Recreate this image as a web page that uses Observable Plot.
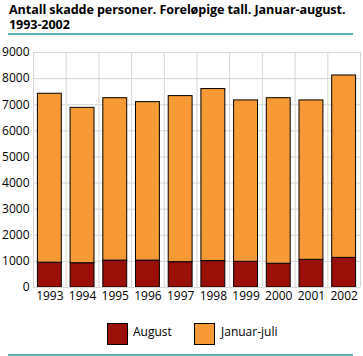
<!DOCTYPE html>
<html>
<head>
<meta charset="utf-8">
<script src="https://cdn.jsdelivr.net/npm/d3@7"></script>
<script src="https://cdn.jsdelivr.net/npm/@observablehq/plot@0.6"></script>
<style>
  html, body { margin: 0; padding: 0; background: #fff; }
  body { width: 363px; height: 356px; position: relative; overflow: hidden; font-family: "Open Sans", sans-serif; color: #000; }
  .title { position: absolute; left: 9px; font-weight: bold; font-size: 12.6px; line-height: 14px; letter-spacing: -0.1px; white-space: nowrap; }
  .rule { position: absolute; left: 8px; width: 345px; height: 2px; background: #5fb3b3; }
  #chart { position: absolute; left: 0; top: 38px; }
  .sw { position: absolute; width: 19px; height: 20px; border: 1px solid #000; }
  .lab { position: absolute; font-size: 12px; line-height: 14px; }
</style>
</head>
<body>
<div class="title" style="top:3px">Antall skadde personer. Foreløpige tall. Januar-august.</div>
<div class="title" style="top:18px">1993-2002</div>
<div class="rule" style="top:33px"></div>
<div id="chart"></div>
<div class="sw" style="left:107px; top:323px; background:#9a0f08"></div>
<div class="lab" style="left:133px; top:325px">August</div>
<div class="sw" style="left:194px; top:323px; background:#f79a36"></div>
<div class="lab" style="left:221px; top:325px">Januar-juli</div>
<div class="rule" style="top:354px"></div>
<script>
const years = [1993, 1994, 1995, 1996, 1997, 1998, 1999, 2000, 2001, 2002];
const august = [950, 930, 1030, 1030, 970, 1010, 985, 910, 1060, 1135];
const januarJuli = [6470, 5950, 6220, 6070, 6360, 6590, 6180, 6340, 6105, 6985];
const series = ["August", "Januar-juli"];
const colors = ["#9a0f08", "#f79a36"];
const yTicks = [0, 1000, 2000, 3000, 4000, 5000, 6000, 7000, 8000, 9000];

const rows = [];
years.forEach((yr, i) => {
  rows.push({year: yr, series: series[0], y1: 0, y2: august[i]});
  rows.push({year: yr, series: series[1], y1: august[i], y2: august[i] + januarJuli[i]});
});
const bounds = years.map(y => y - 0.5).concat([years[years.length - 1] + 0.5]);

const plot = Plot.plot({
  width: 363,
  height: 270,
  marginTop: 14,
  marginBottom: 21,
  marginLeft: 33,
  marginRight: 3,
  style: {fontFamily: "Open Sans, sans-serif", fontSize: "12px", color: "#000", background: "transparent"},
  x: {type: "linear", domain: [years[0] - 0.5, years[years.length - 1] + 0.5], ticks: years, tickFormat: d => String(d), tickSize: 0, tickPadding: 4, label: null},
  y: {domain: [0, 9000], ticks: yTicks, tickFormat: d => String(d), tickSize: 0, tickPadding: 4, label: null},
  color: {domain: series, range: colors},
  marks: [
    Plot.ruleY(yTicks, {stroke: "#d6d6d6", strokeWidth: 1}),
    Plot.ruleX(bounds, {stroke: "#d6d6d6", strokeWidth: 1}),
    Plot.rect(rows, {
      x1: d => d.year - 0.5, x2: d => d.year + 0.5,
      y1: "y1", y2: "y2",
      fill: "series", stroke: "#000", strokeWidth: 1,
      insetLeft: 4.4, insetRight: 4.4
    }),
    Plot.ruleY([0], {stroke: "#d6d6d6"})
  ]
});
document.getElementById("chart").appendChild(plot);
</script>
</body>
</html>
